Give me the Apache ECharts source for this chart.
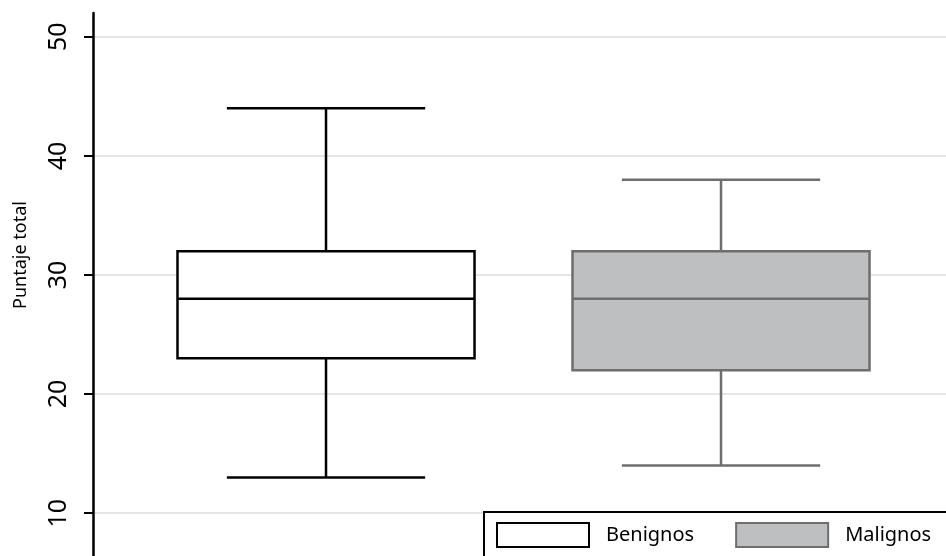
<!DOCTYPE html>
<html>
<head>
<meta charset="utf-8">
<script src="https://cdn.jsdelivr.net/npm/echarts@6/dist/echarts.min.js"></script>
<style>
  html, body { margin: 0; padding: 0; background: #fff; }
  #chart { width: 946px; height: 556px; }
</style>
</head>
<body>
<div id="chart"></div>
<script>
const categories = ['Benignos', 'Malignos']
const positions = [1, 2]
const mins = [13, 14]
const q1s = [23, 22]
const medians = [28, 28]
const q3s = [32, 32]
const maxs = [44, 38]
const yTicks = [10, 20, 30, 40, 50]

const fills = ['#ffffff', '#bebfc1']
const strokes = ['#000000', '#6e6e70']

const BOX_HALF = 0.376
const CAP_HALF = 0.251

function renderBox (params, api) {
  const x = api.value(0)
  const lw = 2.5
  const stroke = strokes[params.seriesIndex]
  const fill = fills[params.seriesIndex]
  const pMin = api.coord([x, api.value(1)])
  const pQ1 = api.coord([x, api.value(2)])
  const pMed = api.coord([x, api.value(3)])
  const pQ3 = api.coord([x, api.value(4)])
  const pMax = api.coord([x, api.value(5)])
  const left = api.coord([x - BOX_HALF, 0])[0]
  const right = api.coord([x + BOX_HALF, 0])[0]
  const capL = api.coord([x - CAP_HALF, 0])[0]
  const capR = api.coord([x + CAP_HALF, 0])[0]
  const ls = { stroke: stroke, lineWidth: lw }
  return {
    type: 'group',
    children: [
      { type: 'line', shape: { x1: pMin[0], y1: pMin[1], x2: pQ1[0], y2: pQ1[1] }, style: ls },
      { type: 'line', shape: { x1: pQ3[0], y1: pQ3[1], x2: pMax[0], y2: pMax[1] }, style: ls },
      { type: 'line', shape: { x1: capL, y1: pMin[1], x2: capR, y2: pMin[1] }, style: ls },
      { type: 'line', shape: { x1: capL, y1: pMax[1], x2: capR, y2: pMax[1] }, style: ls },
      { type: 'rect', shape: { x: left, y: pQ3[1], width: right - left, height: pQ1[1] - pQ3[1] },
        style: { fill: fill, stroke: stroke, lineWidth: lw } },
      { type: 'line', shape: { x1: left, y1: pMed[1], x2: right, y2: pMed[1] }, style: ls }
    ]
  }
}

const chart = echarts.init(document.getElementById('chart'), null, { renderer: 'canvas' })

chart.setOption({
  animation: false,
  backgroundColor: '#ffffff',
  textStyle: { fontFamily: 'Noto Sans' },
  grid: { left: 93, right: 0, top: 13, bottom: 0 },
  xAxis: {
    type: 'value',
    min: 0.4101,
    max: 2.5696,
    show: false
  },
  yAxis: {
    type: 'value',
    min: 6.4,
    max: 52,
    axisLine: { show: true, lineStyle: { color: '#000', width: 2.5 } },
    axisTick: { show: true, length: 9, customValues: yTicks, lineStyle: { color: '#000', width: 2 } },
    axisLabel: {
      customValues: yTicks,
      rotate: 90,
      margin: 22,
      fontSize: 25,
      color: '#000',
      fontFamily: 'Noto Sans'
    },
    splitLine: { show: true, lineStyle: { color: '#e6e6e6', width: 2 } }
  },
  graphic: [{
    type: 'text',
    x: 21,
    y: 255,
    rotation: Math.PI / 2,
    style: {
      text: 'Puntaje total',
      font: '18px "Noto Sans"',
      fill: '#000',
      align: 'center',
      verticalAlign: 'middle'
    }
  }],
  legend: {
    left: 484,
    top: 512,
    width: 600,
    orient: 'horizontal',
    padding: [10, 40, 20, 12],
    itemWidth: 92,
    itemHeight: 24,
    itemGap: 41,
    backgroundColor: '#fff',
    borderColor: '#000',
    borderWidth: 2,
    borderRadius: 0,
    icon: 'rect',
    textStyle: { fontSize: 20, color: '#000', fontFamily: 'Noto Sans', padding: [2, 0, 0, 12] },
    data: categories.map((name, i) => ({
      name: name,
      itemStyle: { color: fills[i], borderColor: strokes[i], borderWidth: 2 }
    }))
  },
  series: categories.map((name, i) => ({
    name: name,
    type: 'custom',
    renderItem: renderBox,
    itemStyle: { color: fills[i], borderColor: strokes[i] },
    encode: { x: 0, y: [1, 2, 3, 4, 5] },
    data: [[positions[i], mins[i], q1s[i], medians[i], q3s[i], maxs[i]]]
  }))
})
</script>
</body>
</html>
